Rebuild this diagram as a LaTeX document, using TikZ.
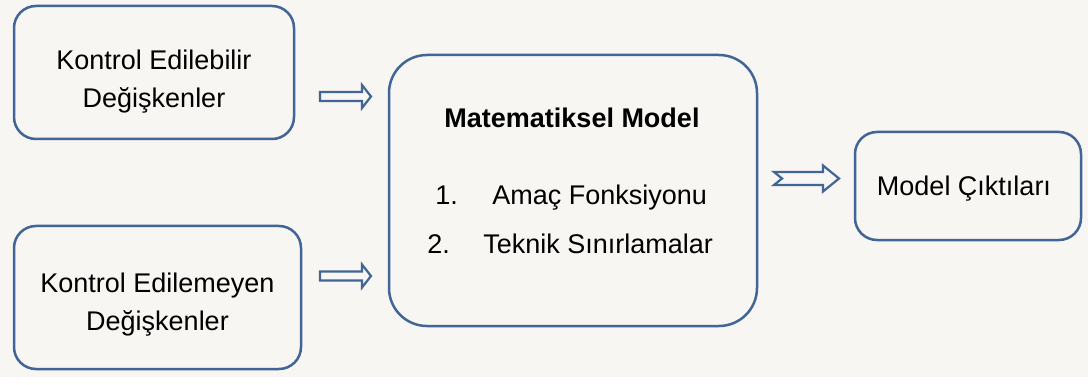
\documentclass[tikz,border=0pt]{standalone}
\usepackage{fontspec}
\setmainfont{Liberation Sans}
\definecolor{kenar}{RGB}{65,101,150}
\definecolor{zemin}{RGB}{247,246,242}
\tikzset{
	yazi/.style={font=\fontsize{13.5}{19}\selectfont,align=center},
	kutu/.style={draw=kenar,line width=1.25pt,rounded corners=11pt,inner sep=0pt},
	okgovde/.style={draw=kenar,line width=1.1pt,fill=zemin,line join=miter},
	blokok/.pic={\draw[okgovde](0,-4.5)--(42,-4.5)--(42,-11.5)--(51,0)--(42,11.5)--(42,4.5)--(0,4.5)--cycle;},
	centikok/.pic={\draw[okgovde](0,-6.5)--(49,-6.5)--(49,-13)--(65,0)--(49,13)--(49,6.5)--(0,6.5)--(8,0)--cycle;}
}
\begin{document}
\begin{tikzpicture}[x=0.5pt,y=-0.5pt]
			\fill[white](0,0)rectangle(1088,385);
			\fill[zemin](0,0)rectangle(1088,377);
			\useasboundingbox(0,0)rectangle(1088,385);
			\node[kutu,minimum width=140pt,minimum height=66.5pt](kontrol)at(154,72.5){};
			\node[kutu,minimum width=143.5pt,minimum height=71.5pt](disetken)at(157.5,297.5){};
			\node[kutu,rounded corners=19pt,minimum width=184pt,minimum height=135.5pt](model)at(573,190.5){};
			\node[kutu,minimum width=113pt,minimum height=54pt](cikti)at(968,186){};
			\node[yazi](kontrolyazi)at([yshift=-4.5pt]kontrol.center){Kontrol Edilebilir\\Değişkenler};
			\node[yazi](disetkenyazi)at([yshift=-3.5pt]disetken.center){Kontrol Edilemeyen\\Değişkenler};
			\node[yazi](cikti yazi)at([xshift=-2pt,yshift=-1.5pt]cikti.center){Model Çıktıları};
			\node[yazi,font=\fontsize{13.5}{19}\selectfont\bfseries,anchor=base](baslik)at(572,128){Matematiksel Model};
			\node[yazi,anchor=base west,inner sep=0pt](no1)at(435,205){1.};
			\node[yazi,anchor=base west,inner sep=0pt](amac)at(492,205){Amaç Fonksiyonu};
			\node[yazi,anchor=base west,inner sep=0pt](no2)at(427,253){2.};
			\node[yazi,anchor=base west,inner sep=0pt](teknik)at(483,253){Teknik Sınırlamalar};
			\pic(ok1)at(320,96.5){blokok};
			\pic(ok2)at(320,276){blokok};
			\pic(ok3)at(774,178.5){centikok};
		\end{tikzpicture}
\end{document}
